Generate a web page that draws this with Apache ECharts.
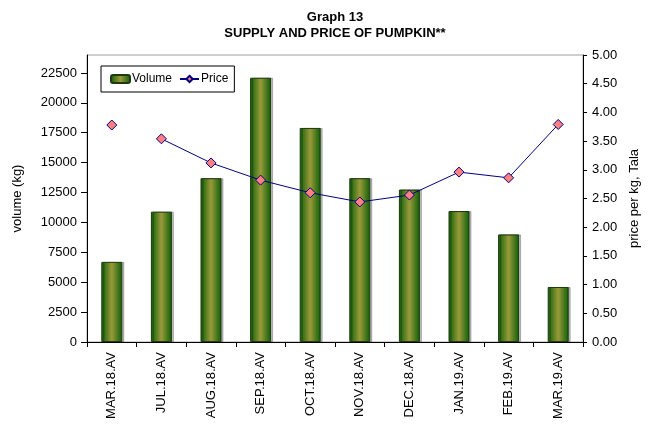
<!DOCTYPE html>
<html>
<head>
<meta charset="utf-8">
<script src="https://cdn.jsdelivr.net/npm/echarts@6/dist/echarts.min.js"></script>
<style>html,body{margin:0;padding:0;background:#fff}#c{width:652px;height:428px}</style>
</head>
<body>
<div id="c"></div>
<script>
var categories = ['MAR.18.AV','JUL.18.AV','AUG.18.AV','SEP.18.AV','OCT.18.AV','NOV.18.AV','DEC.18.AV','JAN.19.AV','FEB.19.AV','MAR.19.AV'];
var volumeValues = [6700, 10900, 13700, 22100, 17900, 13700, 12750, 10950, 9000, 4600];
var priceValues = [3.78, 3.54, 3.12, 2.82, 2.60, 2.44, 2.56, 2.96, 2.86, 3.79];
// The first price point is not joined to the rest (gap in the source months)
var priceBreakAfter = 0;
var volumeTicks = [0, 2500, 5000, 7500, 10000, 12500, 15000, 17500, 20000, 22500];
var priceTicks = [0, 0.5, 1, 1.5, 2, 2.5, 3, 3.5, 4, 4.5, 5];

var FONT = 'Liberation Sans, Arial, sans-serif';
var chart = echarts.init(document.getElementById('c'), null, {renderer: 'canvas'});

var priceFirst = priceValues.map(function (v, i) { return i <= priceBreakAfter ? v : null; });
var priceRest = priceValues.map(function (v, i) { return i > priceBreakAfter ? v : null; });

var barGradient = new echarts.graphic.LinearGradient(0, 0, 1, 0, [
  {offset: 0, color: '#0b5e06'},
  {offset: 0.5, color: '#9a9a3a'},
  {offset: 1, color: '#0b5e06'}
]);

var priceStyle = {
  type: 'line',
  name: 'Price',
  yAxisIndex: 1,
  smooth: false,
  symbol: 'diamond',
  symbolSize: 10,
  connectNulls: false,
  lineStyle: {color: '#000080', width: 1},
  itemStyle: {color: '#ff8080', borderColor: '#000080', borderWidth: 1},
  emphasis: {disabled: true},
  z: 5
};

chart.setOption({
  animation: false,
  textStyle: {fontFamily: FONT, color: '#000'},
  title: {
    text: 'Graph 13\nSUPPLY AND PRICE OF PUMPKIN**',
    left: 330,
    top: 4,
    textAlign: 'center',
    textStyle: {fontFamily: FONT, fontSize: 13, fontWeight: 'bold', color: '#000', lineHeight: 16}
  },
  legend: {
    left: 101,
    top: 66,
    orient: 'horizontal',
    padding: [7, 6, 7, 9],
    itemGap: 7,
    itemWidth: 19,
    itemHeight: 8,
    borderColor: '#000',
    borderWidth: 1,
    backgroundColor: '#fff',
    textStyle: {fontFamily: FONT, fontSize: 12, color: '#000', padding: [0, 0, 0, -3]},
    data: ['Volume', 'Price']
  },
  grid: {
    left: 87, right: 69, top: 55, bottom: 86,
    show: true, borderColor: '#a0a0a0', borderWidth: 1, backgroundColor: 'transparent'
  },
  xAxis: {
    type: 'category',
    data: categories,
    boundaryGap: true,
    axisLine: {lineStyle: {color: '#000', width: 1}},
    axisTick: {show: true, interval: 0, length: 5, lineStyle: {color: '#000'}},
    axisLabel: {interval: 0, rotate: 90, margin: 10, fontSize: 13, color: '#000', fontFamily: FONT}
  },
  yAxis: [
    {
      type: 'value',
      min: 0, max: 24000, interval: 2500,
      name: 'volume (kg)',
      nameLocation: 'middle',
      nameRotate: 90,
      nameGap: 63,
      nameTextStyle: {fontSize: 13, color: '#000', fontFamily: FONT},
      axisLine: {show: true, lineStyle: {color: '#000', width: 1}},
      axisTick: {show: true, length: 6, customValues: volumeTicks, lineStyle: {color: '#000'}},
      axisLabel: {fontSize: 13, color: '#000', margin: 10, customValues: volumeTicks, fontFamily: FONT,
        formatter: function (v) { return String(v); }},
      splitLine: {show: false}
    },
    {
      type: 'value',
      position: 'right',
      min: 0, max: 5, interval: 0.5,
      name: 'price per kg, Tala',
      nameLocation: 'middle',
      nameRotate: 90,
      nameGap: 45,
      nameTextStyle: {fontSize: 13, color: '#000', fontFamily: FONT},
      axisLine: {show: true, lineStyle: {color: '#000', width: 1}},
      axisTick: {show: true, length: 4, customValues: priceTicks, lineStyle: {color: '#000'}},
      axisLabel: {fontSize: 13, color: '#000', margin: 9, customValues: priceTicks, fontFamily: FONT,
        formatter: function (v) { return v.toFixed(2); }},
      splitLine: {show: false}
    }
  ],
  series: [
    {
      type: 'bar',
      name: 'Volume',
      data: volumeValues,
      barWidth: 21,
      itemStyle: {
        color: barGradient,
        borderColor: '#1f3a10',
        borderWidth: 1,
        shadowColor: 'rgba(0,0,0,0.25)',
        shadowOffsetX: 2,
        shadowOffsetY: 0,
        shadowBlur: 0
      },
      emphasis: {disabled: true},
      z: 2
    },
    Object.assign({}, priceStyle, {data: priceRest}),
    Object.assign({}, priceStyle, {data: priceFirst})
  ]
});
</script>
</body>
</html>
